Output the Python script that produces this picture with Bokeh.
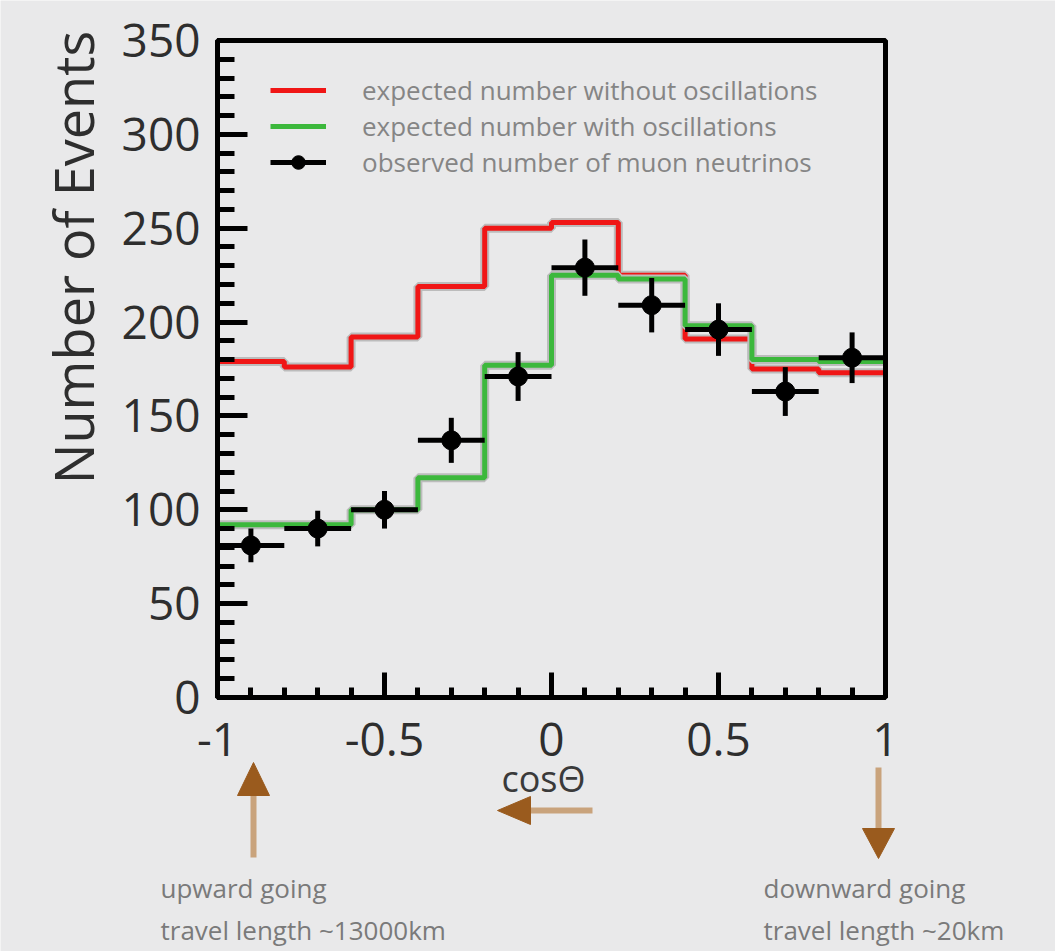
import numpy as np
from bokeh.plotting import figure
from bokeh.models import (ColumnDataSource, SingleIntervalTicker, NumeralTickFormatter,
                          Legend, LegendItem, Label, BoxAnnotation)
from bokeh.embed import file_html
from bokeh.resources import INLINE

# ---- data ----
bin_edges = [-1.0, -0.8, -0.6, -0.4, -0.2, 0.0, 0.2, 0.4, 0.6, 0.8, 1.0]
expected_no_osc = [179, 176, 192, 219, 250, 253, 225, 191, 175, 173]
expected_osc = [92, 92, 100, 117, 177, 225, 223, 198, 180, 179]
observed = [81, 90, 100, 137, 171, 229, 209, 196, 163, 181]
observed_err = [9, 9.5, 10, 12, 13, 15, 14.5, 14, 13, 13.5]

x_min, x_max = -1.0, 1.0
y_min, y_max = 0, 350

legend_labels = ["expected number without oscillations",
                 "expected number with oscillations",
                 "observed number of muon neutrinos"]
y_label = "Number of Events"
x_label = "cos\u0398"
note_up = ["upward going", "travel length ~13000km"]
note_down = ["downward going", "travel length ~20km"]

# ---- derived tables ----
def step_xy(edges, vals):
    xs, ys = [], []
    for i, v in enumerate(vals):
        xs += [edges[i], edges[i + 1]]
        ys += [v, v]
    return xs, ys

centers = [(bin_edges[i] + bin_edges[i + 1]) / 2 for i in range(len(observed))]
half_w = [(bin_edges[i + 1] - bin_edges[i]) / 2 for i in range(len(observed))]
obs_src = ColumnDataSource(dict(
    x=centers, y=observed,
    xl=[c - h for c, h in zip(centers, half_w)],
    xr=[c + h for c, h in zip(centers, half_w)],
    yl=[o - e for o, e in zip(observed, observed_err)],
    yh=[o + e for o, e in zip(observed, observed_err)],
))

BG = "#e9e9ea"
FONT = "Open Sans"

# The plotting frame covers the whole canvas; the axes sit at fixed
# locations so that the notes and arrows below the axes are not clipped.
W, H = 1055, 951
FL, FR, FT, FB = 217, 885, 40, 697          # chart box in pixels
sx = (FR - FL) / (x_max - x_min)
sy = (FB - FT) / (y_max - y_min)
xr = (x_min - FL / sx, x_max + (W - FR) / sx)
yr = (y_min - (H - FB) / sy, y_max + FT / sy)

p = figure(width=W, height=H, x_range=xr, y_range=yr, title=None,
           output_backend="svg", toolbar_location=None,
           min_border_left=0, min_border_right=0,
           min_border_top=0, min_border_bottom=0)
p.background_fill_color = BG
p.border_fill_color = BG
p.outline_line_color = None
p.grid.visible = False

# axes
p.xaxis.ticker = SingleIntervalTicker(interval=0.5, num_minor_ticks=5)
p.yaxis.ticker = SingleIntervalTicker(interval=50, num_minor_ticks=5)
p.xaxis.formatter = NumeralTickFormatter(format="0.[0]")
p.xaxis.fixed_location = y_min
p.yaxis.fixed_location = x_min
p.xaxis.bounds = (x_min, x_max)
p.yaxis.bounds = (y_min, y_max)
for ax in (p.xaxis, p.yaxis):
    ax.axis_line_width = 5
    ax.major_tick_line_width = 5
    ax.minor_tick_line_width = 5
    ax.major_tick_out = 0
    ax.minor_tick_out = 0
    ax.major_label_text_font = FONT
    ax.major_label_text_font_size = "46px"
    ax.major_label_text_color = "#2e2e2e"
p.xaxis.major_tick_in = 25
p.xaxis.minor_tick_in = 10
p.yaxis.major_tick_in = 30
p.yaxis.minor_tick_in = 17
p.xaxis.major_label_standoff = 25
p.yaxis.major_label_standoff = 17

# chart box
p.add_layout(BoxAnnotation(left=x_min, right=x_max, bottom=y_min, top=y_max,
                           fill_alpha=0, line_color="black", line_alpha=1,
                           line_width=5))

# histograms
xs_r, ys_r = step_xy(bin_edges, expected_no_osc)
xs_g, ys_g = step_xy(bin_edges, expected_osc)
p.line(xs_r, ys_r, line_color="#bcbcbc", line_width=9)
r_red = p.line(xs_r, ys_r, line_color="#f01616", line_width=5)
p.line(xs_g, ys_g, line_color="#bcbcbc", line_width=9)
r_green = p.line(xs_g, ys_g, line_color="#3cb83c", line_width=5)

# observed points with error bars
r_h = p.segment(x0="xl", y0="y", x1="xr", y1="y", source=obs_src,
                line_color="black", line_width=5)
p.segment(x0="x", y0="yl", x1="x", y1="yh", source=obs_src,
          line_color="black", line_width=5)
r_pt = p.scatter(x="x", y="y", source=obs_src, size=19, marker="circle",
                 fill_color="black", line_color="black")
r_cross = p.scatter(x=[], y=[], marker="cross", size=10, line_color="black", line_width=4)

legend = Legend(items=[
    LegendItem(label=legend_labels[0], renderers=[r_red]),
    LegendItem(label=legend_labels[1], renderers=[r_green]),
    LegendItem(label=legend_labels[2], renderers=[r_h, r_cross, r_pt]),
], location=(270, 771), padding=0, margin=0, spacing=-2,
    glyph_width=56, glyph_height=34, label_height=34, label_standoff=36,
    background_fill_alpha=0, border_line_alpha=0,
    label_text_font=FONT, label_text_font_size="26px", label_text_color="#858585")
p.add_layout(legend)

# helpers: pixel position -> data position (for decorations only)
def dx(px):
    return x_min + (px - FL) / sx

def dy(py):
    return y_min + (FB - py) / sy

# axis titles
p.add_layout(Label(x=dx(72), y=dy(257), text=y_label, angle=np.pi / 2,
                   text_align="center", text_baseline="alphabetic",
                   text_font=FONT, text_font_size="54px", text_color="#2e2e2e"))
p.add_layout(Label(x=dx(543), y=dy(778), text=x_label, text_align="center",
                   text_baseline="alphabetic", text_font=FONT,
                   text_font_size="36px", text_color="#3a3a3a"))

# direction arrows
SHAFT = "#c9a37c"
HEAD = "#9a5b1e"
p.segment(x0=[dx(253), dx(592), dx(878)], y0=[dy(857), dy(810), dy(767)],
          x1=[dx(253), dx(530), dx(878)], y1=[dy(793), dy(810), dy(830)],
          line_color=SHAFT, line_width=6)
p.patches(xs=[[dx(253), dx(237), dx(269)],
              [dx(497), dx(530), dx(530)],
              [dx(878), dx(862), dx(894)]],
          ys=[[dy(762), dy(795), dy(795)],
              [dy(810), dy(796), dy(824)],
              [dy(858), dy(828), dy(828)]],
          fill_color=HEAD, line_color=HEAD, line_width=1)

# notes
for txt, px, py in [(note_up[0], 160, 887), (note_up[1], 160, 929),
                    (note_down[0], 763, 887), (note_down[1], 763, 929)]:
    p.add_layout(Label(x=dx(px), y=dy(py), text=txt, text_align="left",
                       text_baseline="alphabetic", text_font=FONT,
                       text_font_size="26px", text_color="#7a7a7a"))

open("out.html", "w").write(file_html(p, INLINE))
